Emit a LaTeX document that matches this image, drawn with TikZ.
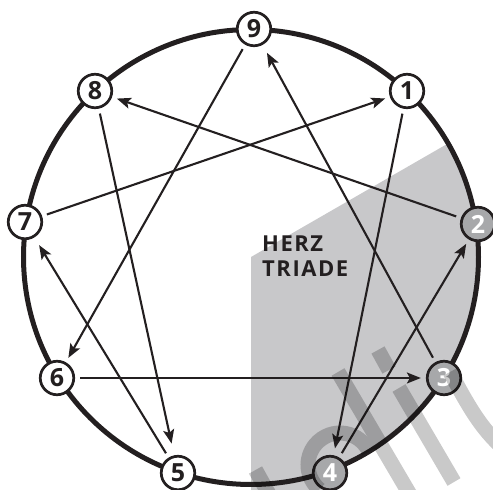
\documentclass[tikz,border=0pt]{standalone}
\usepackage{fontspec}
\setmainfont{Open Sans}
\newfontfamily\labelfont[LetterSpace=7]{Open Sans}
\usetikzlibrary{arrows.meta}
\definecolor{ink}{HTML}{231F20}
\definecolor{triad}{HTML}{C8C8CA}
\definecolor{nodegray}{HTML}{A7A8AA}
\begin{document}
\begin{tikzpicture}[x=1pt,y=1pt,
  num/.style={circle, draw=ink, line width=2.7pt, minimum size=33.5pt, inner sep=0pt,
    fill=white, text=ink, font=\fontsize{25}{25}\selectfont\bfseries},
  hnum/.style={num, fill=nodegray, text=white},
  link/.style={draw=ink, line width=2.1pt,
    -{Stealth[length=14pt,width=11pt,inset=3pt]}, shorten >=5pt, shorten <=5pt},
  wm/.style={line width=15pt, draw=black}]
\useasboundingbox (0,0) rectangle (493,490);
% heart triad area
\begin{scope}
  \clip (251,233) circle (227.5);
  \fill[triad] (251,0) -- (251,233) -- (520,388) -- (520,0) -- cycle;
\end{scope}
\fill[triad] (251,0) rectangle (326,20);
% outer circle
\draw[ink, line width=5pt] (251,233) circle (227.5);
% points
\node[num]  (n9) at (254,461) {9};
\node[num]  (n1) at (407,399) {1};
\node[hnum] (n2) at (478,266) {2};
\node[hnum] (n3) at (444,112) {3};
\node[hnum] (n4) at (330,17)  {4};
\node[num]  (n5) at (178,17)  {5};
\node[num]  (n6) at (57,112)  {6};
\node[num]  (n7) at (25,268)  {7};
\node[num]  (n8) at (95,399)  {8};
% connectors
\draw[link, shorten >=9pt] (n3) -- (n9);
\draw[link] (n9) -- (n6);
\draw[link] (n6) -- (n3);
\draw[link, shorten >=7pt] (n1) -- (n4);
\draw[link] (n4) -- (n2);
\draw[link] (n2) -- (n8);
\draw[link, shorten >=12pt] (n8) -- (n5);
\draw[link, shorten >=9pt] (n5) -- (n7);
\draw[link] (n7) -- (n1);
% label
\node[anchor=base west, align=left, text=ink, inner sep=0pt,
  font=\labelfont\fontsize{22}{25}\selectfont\bfseries] (lbl) at (262,213) {HERZ\\TRIADE};
% watermark
\begin{scope}[transparency group, opacity=0.21]
  \clip (0,0) rectangle (493,490);
  \draw[wm] (255.5,20) -- (270,-6);
  \draw[wm] (338,118) -- (412,-8);
  \draw[wm] (340,25) ++(230:32) arc[start angle=230, end angle=25, radius=32];
  \draw[wm] (378,140) -- (389,120);
  \draw[wm] (399,102) -- (454,8);
  \draw[wm] (450,118) .. controls (468,85) and (480,62) .. (505,40);
\end{scope}
\end{tikzpicture}
\end{document}
